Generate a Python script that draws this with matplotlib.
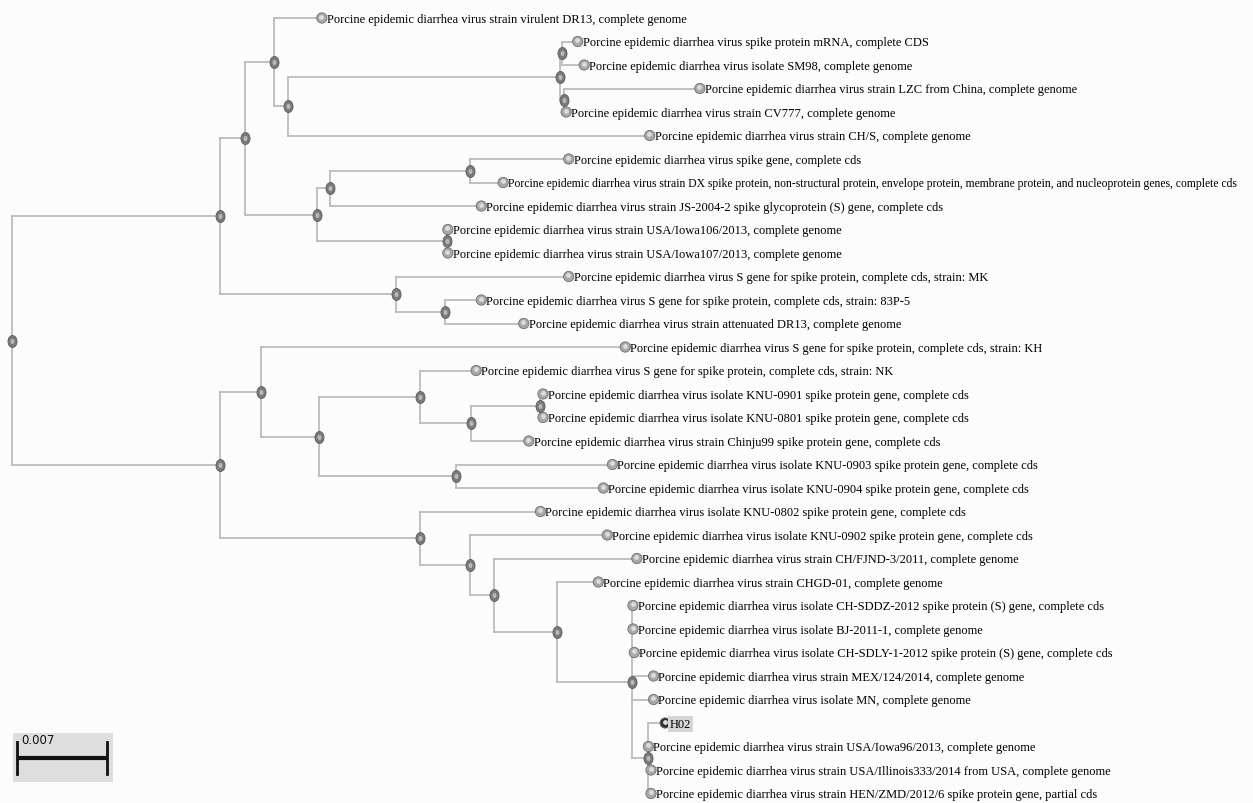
import numpy as np
import matplotlib.pyplot as plt
from matplotlib.path import Path
from matplotlib.transforms import Affine2D, blended_transform_factory
from matplotlib.patches import Rectangle

# leaves, top to bottom
pre = 'Porcine epidemic diarrhea virus '
leaf_labels = [
    pre + 'strain virulent DR13, complete genome',
    pre + 'spike protein mRNA, complete CDS',
    pre + 'isolate SM98, complete genome',
    pre + 'strain LZC from China, complete genome',
    pre + 'strain CV777, complete genome',
    pre + 'strain CH/S, complete genome',
    pre + 'spike gene, complete cds',
    pre + 'strain DX spike protein, non-structural protein, envelope protein, membrane protein, and nucleoprotein genes, complete cds',
    pre + 'strain JS-2004-2 spike glycoprotein (S) gene, complete cds',
    pre + 'strain USA/Iowa106/2013, complete genome',
    pre + 'strain USA/Iowa107/2013, complete genome',
    pre + 'S gene for spike protein, complete cds, strain: MK',
    pre + 'S gene for spike protein, complete cds, strain: 83P-5',
    pre + 'strain attenuated DR13, complete genome',
    pre + 'S gene for spike protein, complete cds, strain: KH',
    pre + 'S gene for spike protein, complete cds, strain: NK',
    pre + 'isolate KNU-0901 spike protein gene, complete cds',
    pre + 'isolate KNU-0801 spike protein gene, complete cds',
    pre + 'strain Chinju99 spike protein gene, complete cds',
    pre + 'isolate KNU-0903 spike protein gene, complete cds',
    pre + 'isolate KNU-0904 spike protein gene, complete cds',
    pre + 'isolate KNU-0802 spike protein gene, complete cds',
    pre + 'isolate KNU-0902 spike protein gene, complete cds',
    pre + 'strain CH/FJND-3/2011, complete genome',
    pre + 'strain CHGD-01, complete genome',
    pre + 'isolate CH-SDDZ-2012 spike protein (S) gene, complete cds',
    pre + 'isolate BJ-2011-1, complete genome',
    pre + 'isolate CH-SDLY-1-2012 spike protein (S) gene, complete cds',
    pre + 'strain MEX/124/2014, complete genome',
    pre + 'isolate MN, complete genome',
    'H02',
    pre + 'strain USA/Iowa96/2013, complete genome',
    pre + 'strain USA/Illinois333/2014 from USA, complete genome',
    pre + 'strain HEN/ZMD/2012/6 spike protein gene, partial cds',
]

# distance from root
leaf_depths = [0.0241, 0.0440, 0.0445, 0.0535, 0.0431, 0.0496, 0.0433, 0.0382,
               0.0365, 0.0339, 0.0339, 0.0433, 0.0365, 0.0398, 0.0477, 0.0361,
               0.0413, 0.0413, 0.0402, 0.0467, 0.0460, 0.0411, 0.0463, 0.0486,
               0.0456, 0.0483, 0.0483, 0.0484, 0.0499, 0.0499, 0.0508, 0.0495,
               0.0497, 0.0497]

clade_children = {
    'root': ['A', 'L'],
    'A': ['B', 'J'], 'B': ['C', 'F'], 'C': [0, 'D'], 'D': ['E', 5],
    'E': ['E1', 'E2'], 'E1': [1, 2], 'E2': [3, 4],
    'F': ['G', 'I'], 'G': ['H', 8], 'H': [6, 7], 'I': [9, 10],
    'J': [11, 'K'], 'K': [12, 13],
    'L': ['M', 'S'], 'M': [14, 'N'], 'N': ['O', 'R'], 'O': [15, 'P'],
    'P': ['Q', 18], 'Q': [16, 17], 'R': [19, 20],
    'S': [21, 'T'], 'T': [22, 'U'], 'U': [23, 'V'], 'V': [24, 'W'],
    'W': [25, 26, 27, 28, 29, 'X'], 'X': [30, 31, 32, 33],
}
clade_depths = {
    'root': 0.0, 'A': 0.0162, 'B': 0.0181, 'C': 0.0204, 'D': 0.0215,
    'E': 0.0426, 'E1': 0.0428, 'E2': 0.0429, 'F': 0.0237, 'G': 0.0247,
    'H': 0.0356, 'I': 0.0338, 'J': 0.0299, 'K': 0.0337,
    'L': 0.0162, 'M': 0.0194, 'N': 0.0239, 'O': 0.0317, 'P': 0.0357,
    'Q': 0.0411, 'R': 0.0345, 'S': 0.0317, 'T': 0.0356, 'U': 0.0375,
    'V': 0.0424, 'W': 0.0482, 'X': 0.0495,
}

scale_len = 0.007
highlight = 'H02'

pos = {}
for i, d in enumerate(leaf_depths):
    pos[i] = (d, i)


def place(name):
    ys = []
    for c in clade_children[name]:
        if c not in pos:
            place(c)
        ys.append(pos[c][1])
    pos[name] = (clade_depths[name], (ys[0] + ys[-1]) / 2)


place('root')

fig = plt.figure(figsize=(12.53, 8.04), dpi=100)
fig.patch.set_facecolor('#fcfcfc')
ax = fig.add_axes([0, 0, 1, 1])
ax.set_facecolor('#fcfcfc')

k = scale_len / 90
ax.set_xlim(-12 * k, 1241 * k)
ax.set_ylim((804 - 19) / 23.5, -19 / 23.5)
ax.axis('off')

line_col = '#bcbcbc'
for name, kids in clade_children.items():
    x, y = pos[name]
    ys = [pos[c][1] for c in kids]
    ax.plot([x, x], [min(ys), max(ys)], color=line_col, lw=1.3, zorder=1)
    for c in kids:
        cx, cy = pos[c]
        ax.plot([x, cx], [cy, cy], color=line_col, lw=1.3, zorder=1)

oval = Path.unit_circle().transformed(Affine2D().scale(0.75, 1.0))
nx = [pos[n][0] for n in clade_children]
ny = [pos[n][1] for n in clade_children]
ax.scatter(nx, ny, s=75, marker=oval, color='#7a7a7a', edgecolor='#5a5a5a',
           linewidth=0.6, zorder=3)
ax.scatter(nx, ny, s=14, marker=oval, color='#b8b8b8', lw=0, zorder=4)

lx = np.array(leaf_depths)
ly = np.arange(len(leaf_labels))
cols = ['#303030' if t == highlight else '#a8a8a8' for t in leaf_labels]
ax.scatter(lx, ly, s=55, color=cols, edgecolor='#6e6e6e', linewidth=0.6, zorder=3)
ax.scatter(lx - 0.4 * k, ly - 0.05, s=12, color='#dcdcdc', lw=0, zorder=4)

for i, t in enumerate(leaf_labels):
    bb = None
    if t == highlight:
        bb = dict(boxstyle='square,pad=0.15', facecolor='#d6d6d6', edgecolor='none')
    fs = 8.4 if len(t) > 100 else 9.0
    ax.annotate(t, (lx[i], ly[i]), xytext=(3.5, -0.5), textcoords='offset points',
                va='center', ha='left', fontsize=fs, family='Liberation Serif',
                color='#000000', bbox=bb)

# scale bar
tr = blended_transform_factory(ax.transData, ax.transAxes)
x0 = 5 * k
ax.add_patch(Rectangle((x0 - 4 * k, 0.026), 100 * k, 0.061, transform=tr,
                       facecolor='#dedede', edgecolor='none', zorder=1))
ax.plot([x0, x0 + scale_len], [0.056, 0.056], transform=tr, color='#111111',
        lw=3, solid_capstyle='butt')
for xe in (x0, x0 + scale_len):
    ax.plot([xe, xe], [0.036, 0.076], transform=tr, color='#111111', lw=2)
ax.text(x0 + 4 * k, 0.087, '%g' % scale_len, transform=tr, fontsize=8.5,
        family='Liberation Sans Narrow', va='top', ha='left', color='#111111')

fig.savefig('out.png', dpi=100, facecolor=fig.get_facecolor())
